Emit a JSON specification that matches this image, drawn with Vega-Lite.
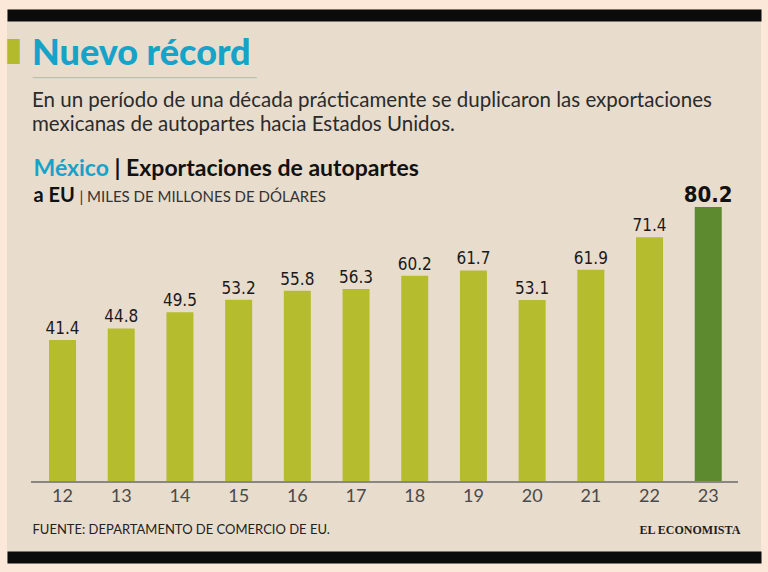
{
  "$schema": "https://vega.github.io/schema/vega-lite/v6.json",
  "width": 754,
  "height": 554,
  "autosize": {"type": "none"},
  "padding": {"left": 7, "top": 9, "right": 7, "bottom": 9},
  "background": "#fce8d8",
  "view": {"fill": "#e8dccd", "stroke": null},
  "title": {
    "text": "Nuevo récord",
    "subtitle": ["En un período de una década prácticamente se duplicaron las exportaciones", "mexicanas de autopartes hacia Estados Unidos."],
    "anchor": "start",
    "frame": "group",
    "orient": "top",
    "offset": -127,
    "dx": 25,
    "font": "Lato",
    "fontSize": 36,
    "fontWeight": 900,
    "color": "#16a3c8",
    "subtitleFont": "Lato",
    "subtitleFontSize": 20.5,
    "subtitleColor": "#2b2b2b",
    "subtitleLineHeight": 24,
    "subtitlePadding": 18
  },
  "data": {
    "values": [
      {"year": "12", "value": 41.4, "tipo": "anterior"},
      {"year": "13", "value": 44.8, "tipo": "anterior"},
      {"year": "14", "value": 49.5, "tipo": "anterior"},
      {"year": "15", "value": 53.2, "tipo": "anterior"},
      {"year": "16", "value": 55.8, "tipo": "anterior"},
      {"year": "17", "value": 56.3, "tipo": "anterior"},
      {"year": "18", "value": 60.2, "tipo": "anterior"},
      {"year": "19", "value": 61.7, "tipo": "anterior"},
      {"year": "20", "value": 53.1, "tipo": "anterior"},
      {"year": "21", "value": 61.9, "tipo": "anterior"},
      {"year": "22", "value": 71.4, "tipo": "anterior"},
      {"year": "23", "value": 80.2, "tipo": "récord"}
    ]
  },
  "resolve": {"axis": {"x": "independent", "y": "independent"}},
  "layer": [
    {
      "mark": {"type": "bar"},
      "encoding": {
        "x": {
          "field": "year", "type": "nominal", "sort": null,
          "scale": {"paddingInner": 0.54, "paddingOuter": 0.6925, "align": 0.517},
          "axis": {
            "orient": "bottom", "offset": -81, "domain": false, "ticks": false, "grid": false,
            "labels": true, "labelAngle": 0, "labelFont": "Lato", "labelFontSize": 18, "labelColor": "#4a4a4a", "labelPadding": 5,
            "title": "FUENTE: DEPARTAMENTO DE COMERCIO DE EU.",
            "titleX": 25, "titleY": 51, "titleAngle": 0, "titleAlign": "left", "titleBaseline": "alphabetic",
            "titleFont": "Lato", "titleFontSize": 13, "titleFontWeight": "normal", "titleColor": "#222222"
          }
        },
        "y": {
          "field": "value", "type": "quantitative",
          "scale": {"domain": [-23.63, 137.98], "zero": false, "nice": false},
          "axis": {
            "orient": "left", "domain": false, "ticks": false, "labels": false, "grid": false,
            "title": "México",
            "titleX": 26, "titleY": 166, "titleAngle": 0, "titleAlign": "left", "titleBaseline": "alphabetic",
            "titleFont": "Lato", "titleFontSize": 23, "titleFontWeight": "bold", "titleColor": "#16a3c8"
          }
        },
        "y2": {"datum": 0},
        "color": {
          "field": "tipo", "type": "nominal",
          "scale": {"domain": ["anterior", "récord"], "range": ["#b5bd2e", "#5e8a2f"]},
          "legend": null
        }
      }
    },
    {
      "transform": [{"filter": "datum.tipo === 'anterior'"}],
      "mark": {"type": "text", "baseline": "alphabetic", "align": "center", "dy": -6, "font": "Liberation Sans Narrow, DejaVu Sans Condensed, Roboto Condensed, Arial Narrow, sans-serif", "fontSize": 17, "color": "#1a1a1a"},
      "encoding": {
        "x": {
          "field": "year", "type": "nominal", "sort": null,
          "scale": {"paddingInner": 0.54, "paddingOuter": 0.6925, "align": 0.517},
          "axis": {
            "orient": "top", "offset": -6, "domain": true, "domainColor": "#0b0b0b", "domainWidth": 12, "ticks": false, "labels": false, "grid": false,
            "title": "EL ECONOMISTA",
            "titleX": 632, "titleY": 518, "titleAngle": 0, "titleAlign": "left", "titleBaseline": "alphabetic",
            "titleFont": "Liberation Serif", "titleFontSize": 12, "titleFontWeight": "bold", "titleColor": "#1e1e1e"
          }
        },
        "y": {
          "field": "value", "type": "quantitative",
          "scale": {"domain": [-23.63, 137.98], "zero": false, "nice": false},
          "axis": {
            "orient": "left", "domain": false, "ticks": false, "labels": false, "grid": false,
            "title": "| Exportaciones de autopartes",
            "titleX": 107, "titleY": 166, "titleAngle": 0, "titleAlign": "left", "titleBaseline": "alphabetic",
            "titleFont": "Lato", "titleFontSize": 23, "titleFontWeight": "bold", "titleColor": "#111111"
          }
        },
        "text": {"field": "value", "type": "quantitative", "format": ".1f"}
      }
    },
    {
      "transform": [{"filter": "datum.tipo === 'récord'"}],
      "mark": {"type": "text", "baseline": "alphabetic", "align": "center", "dy": -5, "font": "Liberation Sans Narrow, DejaVu Sans Condensed, Roboto Condensed, Arial Narrow, sans-serif", "fontSize": 22, "fontWeight": "bold", "color": "#111111"},
      "encoding": {
        "x": {
          "field": "year", "type": "nominal", "sort": null,
          "scale": {"paddingInner": 0.54, "paddingOuter": 0.6925, "align": 0.517},
          "axis": {
            "orient": "bottom", "offset": -6, "domain": true, "domainColor": "#0b0b0b", "domainWidth": 12, "ticks": false, "labels": false, "grid": false,
            "title": "▊",
            "titleX": 0, "titleY": -499, "titleAngle": 0, "titleAlign": "left", "titleBaseline": "alphabetic",
            "titleFont": "DejaVu Sans", "titleFontSize": 21, "titleFontWeight": "normal", "titleColor": "#b3bb2c"
          }
        },
        "y": {
          "field": "value", "type": "quantitative",
          "scale": {"domain": [-23.63, 137.98], "zero": false, "nice": false},
          "axis": {
            "orient": "left", "domain": false, "ticks": false, "labels": false, "grid": false,
            "title": "a EU",
            "titleX": 26, "titleY": 192, "titleAngle": 0, "titleAlign": "left", "titleBaseline": "alphabetic",
            "titleFont": "Lato", "titleFontSize": 20, "titleFontWeight": "bold", "titleColor": "#111111"
          }
        },
        "text": {"field": "value", "type": "quantitative", "format": ".1f"}
      }
    },
    {
      "mark": {"type": "rule", "color": "#8a8580", "strokeWidth": 1.2},
      "encoding": {
        "x": {
          "datum": "12", "type": "nominal", "bandPosition": -0.667,
          "scale": {"paddingInner": 0.54, "paddingOuter": 0.6925, "align": 0.517},
          "axis": {
            "orient": "top", "offset": 0, "domain": false, "ticks": false, "labels": false, "grid": false,
            "title": "───────────────────────────────",
            "titleX": 25, "titleY": 72, "titleAngle": 0, "titleAlign": "left", "titleBaseline": "alphabetic",
            "titleFont": "DejaVu Sans", "titleFontSize": 12, "titleFontWeight": "normal", "titleColor": "#8ec8dd"
          }
        },
        "x2": {"datum": "23", "bandPosition": 1.6},
        "y": {
          "datum": 0, "type": "quantitative",
          "scale": {"domain": [-23.63, 137.98], "zero": false, "nice": false},
          "axis": {
            "orient": "left", "domain": false, "ticks": false, "labels": false, "grid": false,
            "title": "| MILES DE MILLONES DE DÓLARES",
            "titleX": 72, "titleY": 192, "titleAngle": 0, "titleAlign": "left", "titleBaseline": "alphabetic",
            "titleFont": "Lato", "titleFontSize": 15, "titleFontWeight": "normal", "titleColor": "#333333"
          }
        }
      }
    }
  ]
}
